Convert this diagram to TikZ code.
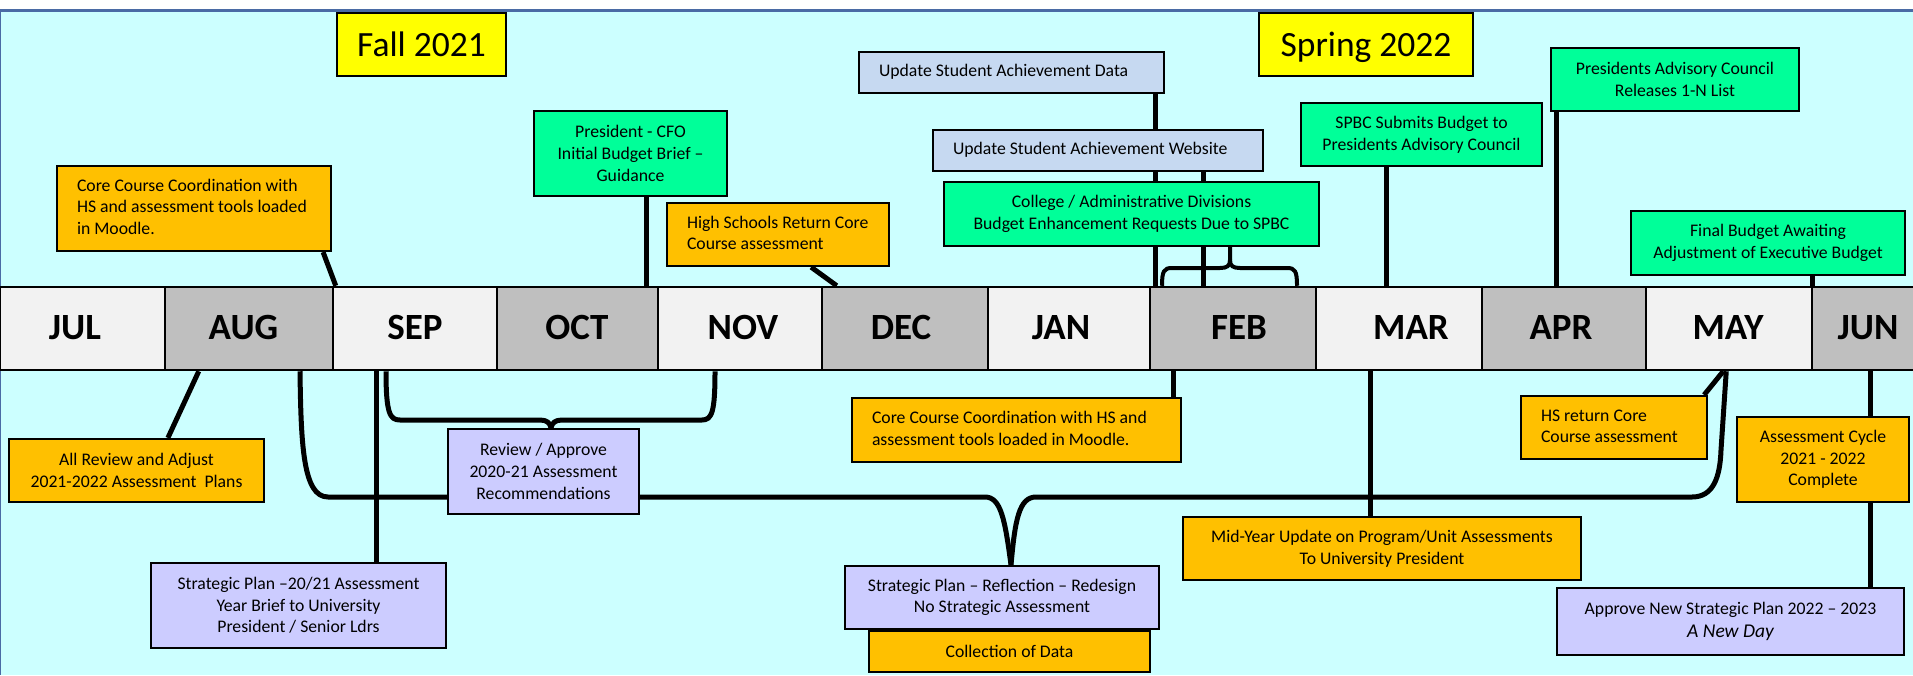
\documentclass[tikz,border=0pt]{standalone}
\usepackage{fontspec}
\setmainfont{Carlito}
\usetikzlibrary{calc}
\pgfdeclarelayer{bglayer}
\pgfdeclarelayer{lnlayer}
\pgfsetlayers{bglayer,lnlayer,main}
\definecolor{bgcyan}{HTML}{CCFFFF}
\definecolor{framec}{HTML}{4A6BA5}
\definecolor{cyellow}{HTML}{FFFF00}
\definecolor{corange}{HTML}{FFC000}
\definecolor{cgreen}{HTML}{00FF99}
\definecolor{cblue}{HTML}{C6D9F1}
\definecolor{cpurple}{HTML}{CCCCFF}
\definecolor{mlight}{HTML}{F2F2F2}
\definecolor{mdark}{HTML}{BFBFBF}
\newcommand{\bxfont}{\fontsize{17.7}{21.6}\selectfont}
\newcommand{\mthfont}{\fontsize{37}{42}\selectfont\bfseries}
\newcommand{\ssnfont}{\fontsize{35.5}{40}\selectfont}
\newcommand{\lftxt}[2]{\makebox[#1][l]{\begin{tabular}{@{}l@{}}#2\end{tabular}}}
\tikzset{
  box/.style={draw=black, line width=2.2pt, inner sep=0pt, font=\bxfont, align=center},
  mcell/.style={draw=black, line width=2.5pt, inner sep=0pt, minimum height=83pt},
  mtext/.style={font=\mthfont, inner sep=0pt, text height=23.8pt, text depth=0pt},
  ssn/.style={draw=black, line width=2.5pt, fill=cyellow, inner sep=0pt, font=\ssnfont, text height=23pt, text depth=0pt},
  conn/.style={draw=black, line width=5pt, line join=round},
  brace/.style={draw=black, line width=4pt, line join=round},
}
\begin{document}
\begin{tikzpicture}[x=1pt,y=-1pt]
\useasboundingbox (0,0) rectangle (1913,675);
\begin{pgfonlayer}{bglayer}
\fill[white] (0,0) rectangle (1913,675);
\fill[bgcyan] (0,10) rectangle (1913,675);
\draw[framec, line width=3pt] (0,10) -- (1913,10);
\draw[framec, line width=2.5pt] (0,10) -- (0,675);
\end{pgfonlayer}

% month bar
\node[mcell, fill=mlight, minimum width=165pt] (jul) at (82.5,328.5) {};
\node[mcell, fill=mdark,  minimum width=168pt] (aug) at (249,328.5) {};
\node[mcell, fill=mlight, minimum width=164pt] (sep) at (415,328.5) {};
\node[mcell, fill=mdark,  minimum width=161pt] (oct) at (577.5,328.5) {};
\node[mcell, fill=mlight, minimum width=164pt] (nov) at (740,328.5) {};
\node[mcell, fill=mdark,  minimum width=166pt] (dec) at (905,328.5) {};
\node[mcell, fill=mlight, minimum width=162pt] (jan) at (1069,328.5) {};
\node[mcell, fill=mdark,  minimum width=166pt] (feb) at (1233,328.5) {};
\node[mcell, fill=mlight, minimum width=166pt] (mar) at (1399,328.5) {};
\node[mcell, fill=mdark,  minimum width=164pt] (apr) at (1564,328.5) {};
\node[mcell, fill=mlight, minimum width=166pt] (may) at (1729,328.5) {};
\node[mcell, fill=mdark,  minimum width=104pt] (jun) at (1864,328.5) {};
\node[mtext] (tjul) at (75,328) {JUL};
\node[mtext] (taug) at (243.5,328) {AUG};
\node[mtext] (tsep) at (415,328) {SEP};
\node[mtext] (toct) at (577,328) {OCT};
\node[mtext] (tnov) at (743,328) {NOV};
\node[mtext] (tdec) at (901,328) {DEC};
\node[mtext] (tjan) at (1061,328) {JAN};
\node[mtext] (tfeb) at (1239,328) {FEB};
\node[mtext] (tmar) at (1411,328) {MAR};
\node[mtext] (tapr) at (1561,328) {APR};
\node[mtext] (tmay) at (1728,328) {MAY};
\node[mtext] (tjun) at (1868,328) {JUN};

% seasons
\node[ssn, minimum width=169pt, minimum height=63pt] (fall) at (421.5,44.5) {Fall 2021};
\node[ssn, minimum width=214pt, minimum height=63pt] (spring) at (1366,44.5) {Spring 2022};

% top boxes
\node[box, fill=corange, minimum width=274pt, minimum height=85pt] (coretop) at (194,208.5)
  {\lftxt{234pt}{Core Course Coordination with\\HS and assessment tools loaded\\in Moodle.}};
\node[box, fill=cgreen, minimum width=193pt, minimum height=85pt] (pres) at (630.5,153.5)
  {President - CFO\\Initial Budget Brief –\\Guidance};
\node[box, fill=corange, minimum width=222pt, minimum height=63pt] (hstop) at (778,234.5)
  {\lftxt{182pt}{High Schools Return Core\\Course assessment}};
\node[box, fill=cblue, minimum width=305pt, minimum height=41pt] (data) at (1011.5,72.5)
  {\lftxt{265pt}{Update Student Achievement Data}};
\node[box, fill=cblue, minimum width=330pt, minimum height=41pt] (web) at (1098,150.5)
  {\lftxt{290pt}{Update Student Achievement Website}};
\node[box, fill=cgreen, minimum width=375pt, minimum height=64pt] (college) at (1131.5,214)
  {College / Administrative Divisions\\Budget Enhancement Requests Due to SPBC};
\node[box, fill=cgreen, minimum width=241pt, minimum height=63pt] (spbc) at (1421.5,134.5)
  {SPBC Submits Budget to\\Presidents Advisory Council};
\node[box, fill=cgreen, minimum width=248pt, minimum height=63pt] (pac) at (1675,79.5)
  {Presidents Advisory Council\\Releases 1-N List};
\node[box, fill=cgreen, minimum width=274pt, minimum height=64pt] (final) at (1768,243)
  {Final Budget Awaiting\\Adjustment of Executive Budget};

% bottom boxes
\node[box, fill=corange, minimum width=255pt, minimum height=63pt] (allrev) at (136.5,470.5)
  {All Review and Adjust\\2021-2022 Assessment\ \ Plans};
\node[box, fill=cpurple, minimum width=191pt, minimum height=85pt] (review) at (543.5,471.5)
  {Review / Approve\\2020-21 Assessment\\Recommendations};
\node[box, fill=cpurple, minimum width=295pt, minimum height=85pt] (strat1) at (298.5,605.5)
  {Strategic Plan –20/21 Assessment\\Year Brief to University\\President / Senior Ldrs};
\node[box, fill=corange, minimum width=329pt, minimum height=64pt] (corebot) at (1016.5,430)
  {\lftxt{289pt}{Core Course Coordination with HS and\\assessment tools loaded in Moodle.}};
\node[box, fill=cpurple, minimum width=314pt, minimum height=63pt] (reflect) at (1002,597.5)
  {Strategic Plan – Reflection – Redesign\\No Strategic Assessment};
\node[box, fill=corange, minimum width=281pt, minimum height=41pt] (collect) at (1009.5,651.5)
  {Collection of Data};
\node[box, fill=corange, minimum width=398pt, minimum height=63pt] (midyear) at (1382,548.5)
  {Mid-Year Update on Program/Unit Assessments\\To University President};
\node[box, fill=corange, minimum width=186pt, minimum height=63pt] (hsret) at (1614,427.5)
  {\lftxt{146pt}{HS return Core\\Course assessment}};
\node[box, fill=corange, minimum width=172pt, minimum height=85pt] (cycle) at (1823,459.5)
  {Assessment Cycle\\2021 - 2022\\Complete};
\node[box, fill=cpurple, minimum width=347pt, minimum height=67pt] (approve) at (1730.5,621.5)
  {Approve New Strategic Plan 2022 – 2023\\[1pt]{\fontsize{19.5}{23}\selectfont\itshape A New Day}};

% connectors
\begin{pgfonlayer}{lnlayer}
\draw[conn] ([xshift=-9pt]coretop.south east) -- ([xshift=4pt]sep.north west);
\draw[conn] (646,0 |- pres.south) -- (646,0 |- oct.north);
\draw[conn] ([xshift=-79pt]hstop.south east) -- ([xshift=16pt]dec.north west);
\draw[conn] (1155,0 |- data.south) -- (1155,0 |- feb.north);
\draw[conn] (1203,0 |- web.south) -- (1203,0 |- feb.north);
\draw[conn] (1386,0 |- spbc.south) -- (1386,0 |- mar.north);
\draw[conn] (1556,0 |- pac.south) -- (1556,0 |- apr.north);
\draw[conn] (1812,0 |- final.south) -- (1812,0 |- jun.north);
\draw[brace] (1162,0 |- feb.north) .. controls (1162,271) and (1164,268) .. (1172,268) -- (1220,268)
  .. controls (1227,268) and (1230,266) .. (1230,260) -- (1230,0 |- college.south);
\draw[brace] (1230,260) .. controls (1230,266) and (1233,268) .. (1240,268) -- (1287,268)
  .. controls (1295,268) and (1297,271) .. (1297,0 |- feb.north);

\draw[conn] ([xshift=160pt]allrev.north west) -- ([xshift=35pt]aug.south west);
\draw[conn] (376,0 |- sep.south) -- (376,0 |- strat1.north);
\draw[conn] (386,0 |- sep.south) .. controls (386,414) and (390,420) .. (400,420) -- (540,420)
  .. controls (547,420) and (550,423) .. ([xshift=7.5pt]review.north);
\draw[conn] ([xshift=7.5pt]review.north) .. controls (552,423) and (555,420) .. (562,420) -- (702,420)
  .. controls (712,420) and (715,412) .. (715,0 |- nov.south);
\draw[conn] (300,0 |- aug.south) .. controls (301,445) and (303,497) .. (328,497) -- (985,497)
  .. controls (1001,497) and (1005,520) .. ([xshift=9pt]reflect.north);
\draw[conn] ([xshift=9pt]reflect.north) .. controls (1015,520) and (1019,497) .. (1036,497) -- (1692,497)
  .. controls (1713,497) and (1720,478) .. (1721,450) -- ([xshift=-87pt]may.south east);
\draw[conn] (1173,0 |- feb.south) -- (1173,0 |- corebot.north);
\draw[conn] (1370,0 |- mar.south) -- (1370,0 |- midyear.north);
\draw[conn] ([xshift=-4pt]hsret.north east) -- ([xshift=-90pt]may.south east);
\draw[conn] (1870,0 |- jun.south) -- (1870,0 |- cycle.north);
\draw[conn] (1870,0 |- cycle.south) -- (1870,0 |- approve.north);
\end{pgfonlayer}
\end{tikzpicture}
\end{document}
